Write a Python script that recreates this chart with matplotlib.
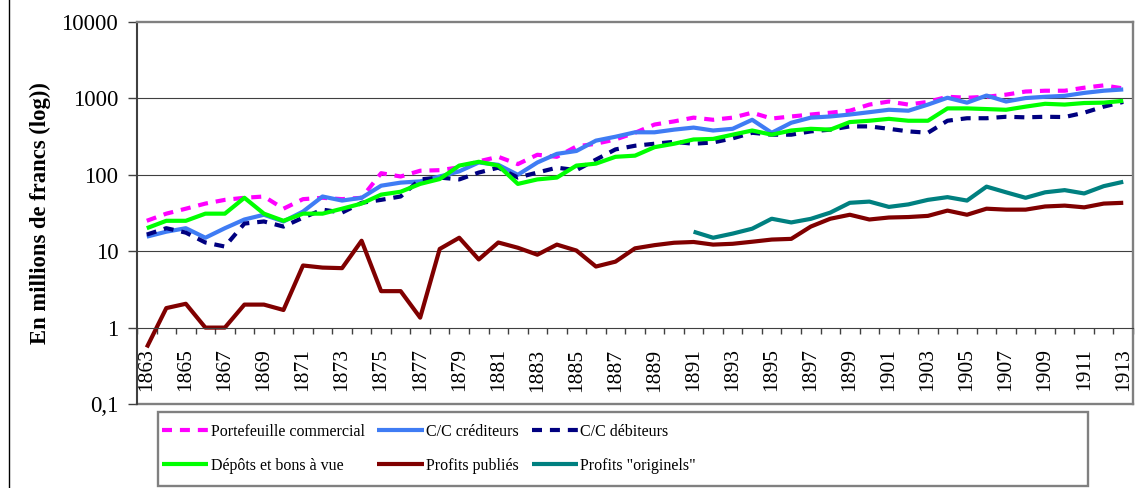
import numpy as np
import matplotlib
matplotlib.use("Agg")
import matplotlib.pyplot as plt
from matplotlib.lines import Line2D
from matplotlib.patches import Rectangle

plt.rcParams['font.family'] = ['Liberation Serif', 'DejaVu Serif']

years = list(range(1863, 1914))

portefeuille = [25, 31, 36, 42, 47, 50, 52, 36, 48, 50, 48, 50, 105, 95, 113, 115, 125, 150, 172, 138,
                183, 172, 235, 255, 290, 355, 455, 500, 560, 525, 560, 650, 545, 580, 615, 650, 690, 830,
                910, 830, 900, 1050, 1020, 1050, 1120, 1230, 1260, 1260, 1380, 1480, 1350]
cc_crediteurs = [15.5, 18, 20, 15, 20, 26, 30, 24.5, 33, 52, 46, 50, 72, 79, 82, 95, 111, 145, 135, 100,
                 145, 188, 205, 280, 315, 360, 360, 390, 415, 380, 400, 525, 355, 480, 560, 580, 615, 660,
                 710, 690, 830, 1020, 880, 1090, 910, 1010, 1050, 1080, 1180, 1260, 1310]
cc_debiteurs = [16.5, 20, 17.5, 13, 11.5, 23, 24.5, 21, 27.5, 35, 32, 43, 47, 52, 87, 92, 87, 107, 124, 92,
                107, 124, 115, 158, 215, 240, 255, 270, 255, 265, 300, 355, 335, 335, 370, 390, 430, 430,
                400, 370, 355, 510, 550, 550, 575, 565, 575, 570, 650, 780, 900]
depots = [20, 25, 25, 31, 31, 50, 31, 25, 31, 31, 36, 42, 55, 60, 76, 88, 132, 148, 132, 76,
          87, 92, 132, 140, 172, 178, 230, 255, 290, 295, 335, 380, 335, 380, 400, 390, 490, 510,
          540, 510, 510, 740, 740, 725, 710, 780, 850, 830, 870, 880, 930]
profits_publies = [0.55, 1.8, 2.05, 1.0, 1.0, 2.0, 2.0, 1.7, 6.5, 6.1, 6.0, 13.7, 3.0, 3.0, 1.35, 10.7,
                   15, 7.8, 13, 11.1, 9, 12.2, 10.2, 6.3, 7.3, 10.9, 12, 12.9, 13.2, 12.2, 12.5, 13.3,
                   14.2, 14.5, 21, 26.6, 30, 26, 27.6, 28, 29, 34, 30, 36, 35, 35, 38.5, 39.5, 37.5, 42, 43]
profits_originels = [np.nan] * 28 + [18, 15, 17, 19.7, 26.6, 23.8, 26.5, 32, 43, 44.6,
                                     38, 41, 47, 51, 46, 70, 59, 50, 59, 63, 57, 71, 81]

y_ticks = [0.1, 1, 10, 100, 1000, 10000]
y_labels = ["0,1", "1", "10", "100", "1000", "10000"]

W, H = 1136, 488
fig = plt.figure(figsize=(W / 100, H / 100), dpi=100)
ax = fig.add_axes([137 / W, 1 - 404 / H, (1133 - 137) / W, (404 - 22) / H])

x = np.arange(len(years))
lw = 3
series = [
    (portefeuille, "Portefeuille commercial", "#FF00FF", (2.4, 1.9)),
    (cc_crediteurs, "C/C créditeurs", "#3F7CF4", None),
    (cc_debiteurs, "C/C débiteurs", "#000080", (2.4, 1.9)),
    (depots, "Dépôts et bons à vue", "#00FF00", None),
    (profits_publies, "Profits publiés", "#800000", None),
    (profits_originels, "Profits \"originels\"", "#008080", None),
]
handles = {}
for vals, name, col, dash in series:
    ln, = ax.plot(x, vals, color=col, lw=lw, solid_capstyle='butt', dash_capstyle='butt')
    if dash:
        ln.set_dashes(dash)
    handles[name] = ln

ax.set_yscale('log')
ax.set_ylim(0.1, 10000)
ax.set_xlim(-0.5, len(years) - 0.5)
ax.set_yticks(y_ticks)
ax.set_yticklabels(y_labels)
ax.yaxis.set_minor_locator(matplotlib.ticker.NullLocator())
ax.tick_params(axis='y', which='major', direction='out', length=6.5, width=1, color='#404040',
               labelsize=16.5, pad=7)

for v in y_ticks[2:-1]:
    ax.axhline(v, color='#404040', lw=0.8, zorder=0.5)

# category axis crosses at 1
ax.spines['bottom'].set_position(('data', 1))
ax.spines['bottom'].set_color('#404040')
ax.spines['bottom'].set_linewidth(0.8)
ax.set_xticks(x[::2])
ax.set_xticklabels([str(y) for y in years[::2]], rotation=90)
ax.set_xticks(np.arange(len(years) + 1) - 0.5, minor=True)
ax.tick_params(axis='x', which='major', length=0, labelsize=15.5, pad=15)
ax.tick_params(axis='x', which='minor', direction='out', length=4, width=1, color='#404040')

ax.spines['left'].set_color('#404040')
ax.spines['left'].set_linewidth(1.5)
for s in ['top', 'right']:
    ax.spines[s].set_color('#808080')
    ax.spines[s].set_linewidth(1.7)
ax.axhline(0.1, color='#808080', lw=1.7, clip_on=False)

fig.text(40 / W, 1 - 213 / H, "En millions de francs (log))", rotation=90, ha='center', va='center',
         fontsize=16.3, fontweight='bold')

# legend
order = ["Portefeuille commercial", "Dépôts et bons à vue", "C/C créditeurs", "Profits publiés",
         "C/C débiteurs", "Profits \"originels\""]
leg = fig.legend([handles[k] for k in order], order, ncol=3, loc='upper left',
                 bbox_to_anchor=(162 / W, 1 - 424 / H), frameon=False, fontsize=11.5,
                 handlelength=2.9, handletextpad=0.15, columnspacing=0.8, labelspacing=1.1,
                 borderpad=0, borderaxespad=0)
fig.add_artist(Rectangle((158 / W, 1 - 486 / H), (1088 - 158) / W, (486 - 412) / H,
                         transform=fig.transFigure, fill=False, edgecolor='#808080', lw=1.7))
fig.add_artist(Line2D([9 / W, 9 / W], [0, 1], transform=fig.transFigure, color='black', lw=1))

fig.savefig("out.png", dpi=100)
